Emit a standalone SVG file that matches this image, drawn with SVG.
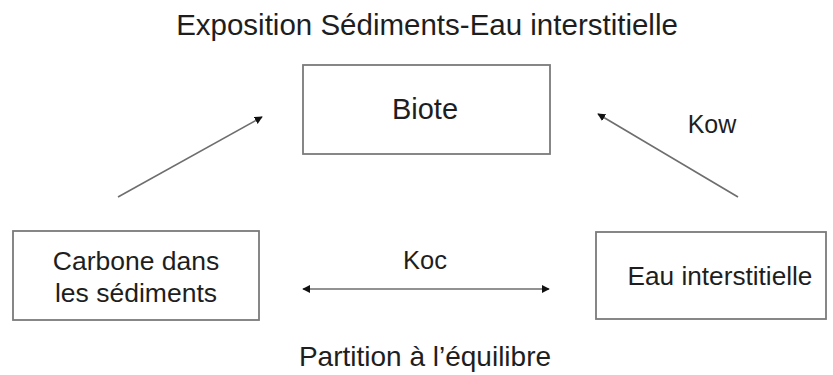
<svg xmlns="http://www.w3.org/2000/svg" width="833" height="375" viewBox="0 0 833 375">
<defs>
<style>
.box{fill:#fff;stroke:#7a7a7a;stroke-width:1.8}
.t{font-family:"Liberation Sans",Arial,sans-serif;fill:#1e1e1e;text-anchor:middle}
.c{stroke:#6e6e6e;stroke-width:1.6;fill:none}
</style>
<marker id="ah" viewBox="0 0 10 10" refX="9" refY="5" markerWidth="5" markerHeight="5" orient="auto-start-reverse" markerUnits="strokeWidth">
<path d="M0,0 L10,5 L0,10 z" fill="#111"/>
</marker>
</defs>
<rect width="833" height="375" fill="#fff"/>
<text class="t" x="427" y="35" font-size="29.5">Exposition Sédiments-Eau interstitielle</text>
<g id="biote">
<rect class="box" x="303" y="65" width="247" height="89"/>
<text class="t" x="425" y="119" font-size="29">Biote</text>
</g>
<g id="carbone">
<rect class="box" x="13" y="231" width="246" height="89"/>
<text class="t" x="136" y="270" font-size="26.5">Carbone dans</text>
<text class="t" x="136" y="302" font-size="26.5">les sédiments</text>
</g>
<g id="eau">
<rect class="box" x="596" y="232" width="230" height="87"/>
<text class="t" x="720" y="285" font-size="26.2">Eau interstitielle</text>
</g>
<g id="connectors">
<line class="c" x1="118" y1="197" x2="262" y2="117" marker-end="url(#ah)"/>
<line class="c" x1="738" y1="197" x2="598" y2="114" marker-end="url(#ah)"/>
<line class="c" x1="303" y1="289" x2="549" y2="289" marker-start="url(#ah)" marker-end="url(#ah)"/>
<text class="t" x="712" y="133" font-size="25">Kow</text>
<text class="t" x="425" y="269" font-size="25.5">Koc</text>
</g>
<text class="t" x="425" y="366" font-size="28">Partition à l’équilibre</text>
</svg>
